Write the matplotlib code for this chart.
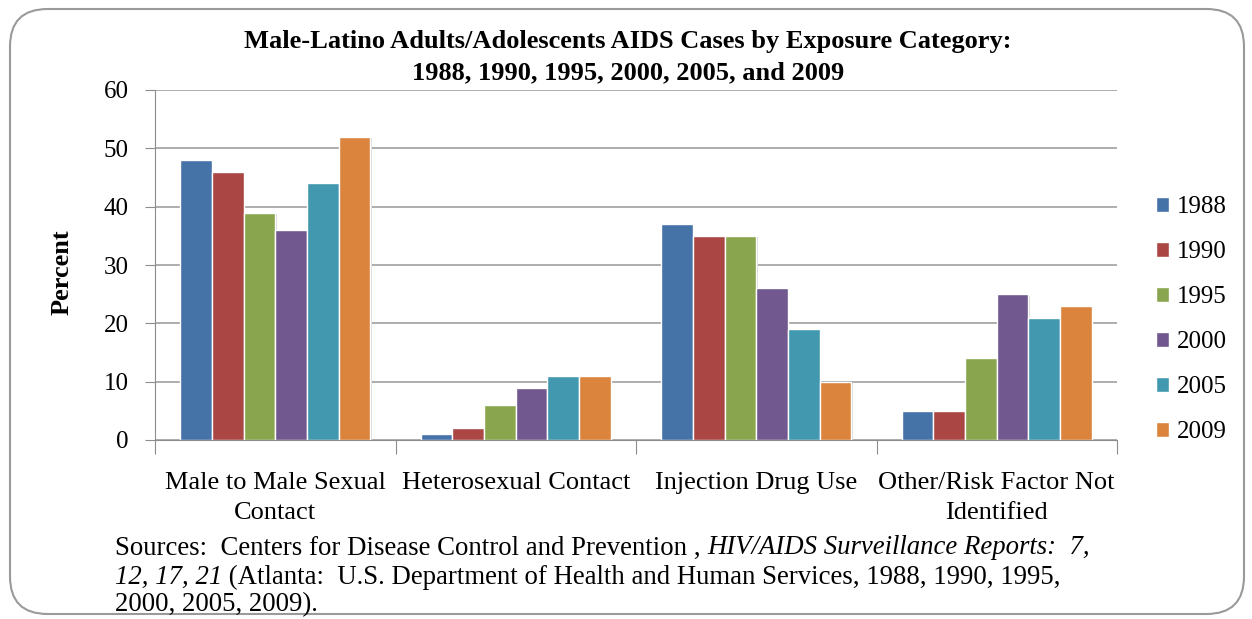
import matplotlib
matplotlib.use("Agg")
import matplotlib.pyplot as plt
import numpy as np
from matplotlib.patches import FancyBboxPatch

categories = ["Male to Male Sexual\nContact", "Heterosexual Contact", "Injection Drug Use", "Other/Risk Factor Not\nIdentified"]
years = ["1988", "1990", "1995", "2000", "2005", "2009"]
v1988 = [48, 1, 37, 5]
v1990 = [46, 2, 35, 5]
v1995 = [39, 6, 35, 14]
v2000 = [36, 9, 26, 25]
v2005 = [44, 11, 19, 21]
v2009 = [52, 11, 10, 23]
series = [v1988, v1990, v1995, v2000, v2005, v2009]
colors = ["#4572A7", "#AA4643", "#89A54E", "#71588F", "#4198AF", "#DB843D"]
yticks = [0, 10, 20, 30, 40, 50, 60]

plt.rcParams['font.family'] = ['Liberation Serif', 'DejaVu Serif']

fig = plt.figure(figsize=(12.52, 6.19), dpi=100)
border = FancyBboxPatch((10/1252, 5/619), 1234/1252, 605/619,
                        boxstyle="round,pad=0,rounding_size=0.03",
                        transform=fig.transFigure, fill=False,
                        edgecolor="#9a9a9a", linewidth=1.5, mutation_aspect=1252/619)
fig.patches.append(border)

ax = fig.add_axes([155/1252, 1 - 440/619, (1117 - 155)/1252, (440 - 90)/619])
x = np.arange(len(categories))
w = 0.132
for i, (vals, c, yr) in enumerate(zip(series, colors, years)):
    # subtle shadow
    ax.bar(x + (i - 2.5) * w + 0.006, vals, width=w, bottom=-0.25, color="#d8d8d8",
           edgecolor="none", zorder=2)
for i, (vals, c, yr) in enumerate(zip(series, colors, years)):
    ax.bar(x + (i - 2.5) * w, vals, width=w, color=c, edgecolor="white",
           linewidth=1, label=yr, zorder=3)

ax.set_xlim(-0.5, len(categories) - 0.5)
ax.set_ylim(0, 60)
ax.set_yticks(yticks)
ax.set_yticklabels([str(t) for t in yticks], fontsize=18)
ax.yaxis.grid(True, color="#a0a0a0", linewidth=1.2, zorder=0)
ax.set_axisbelow(True)
for s in ["top", "right"]:
    ax.spines[s].set_visible(False)
ax.spines["left"].set_color("#8c8c8c")
ax.spines["bottom"].set_color("#8c8c8c")
ax.spines["bottom"].set_zorder(4)
ax.tick_params(axis="y", length=7, color="#8c8c8c", pad=12)
ax.set_xticks(np.arange(len(categories) + 1) - 0.5, minor=False)
ax.set_xticklabels([])
ax.tick_params(axis="x", length=10, color="#8c8c8c")
ax.set_xticks(x, minor=True)
ax.set_xticklabels(categories, minor=True, fontsize=19, linespacing=1.45)
ax.tick_params(axis="x", which="minor", length=0, pad=23)

fig.text(62/1252, 1 - 272/619, "Percent", rotation=90, ha="center", va="center",
         fontsize=19, fontweight="bold")

fig.text(628/1252, 1 - 57/619, "Male-Latino Adults/Adolescents AIDS Cases by Exposure Category:\n1988, 1990, 1995, 2000, 2005, and 2009",
         ha="center", va="center", fontsize=19, fontweight="bold", linespacing=1.45)

leg = ax.legend(loc="center left", bbox_to_anchor=((1156 - 155) / 962, 0.343), frameon=False,
                fontsize=18, handlelength=0.5, handleheight=0.5, labelspacing=0.92,
                handletextpad=0.35, borderpad=0, borderaxespad=0)

# Source text with mixed italic
fs = 19.3
t1 = fig.text(115/1252, 1 - 548/619, "Sources:  Centers for Disease Control and Prevention , ", fontsize=fs, va="center")
t2 = fig.text(0, 0, "HIV/AIDS Surveillance Reports:  7,", fontsize=fs, style="italic", va="center")
fig.canvas.draw()
r = fig.canvas.get_renderer()
bb = t1.get_window_extent(r)
t2.set_position((bb.x1 / fig.bbox.width, 1 - 548/619))
t3 = fig.text(115/1252, 1 - 577/619, "12, 17, 21", fontsize=fs, style="italic", va="center")
fig.canvas.draw()
bb = t3.get_window_extent(r)
fig.text(bb.x1 / fig.bbox.width, 1 - 577/619, " (Atlanta:  U.S. Department of Health and Human Services, 1988, 1990, 1995,", fontsize=fs, va="center")
fig.text(115/1252, 1 - 605/619, "2000, 2005, 2009).", fontsize=fs, va="center")

fig.savefig("out.png", dpi=100)
